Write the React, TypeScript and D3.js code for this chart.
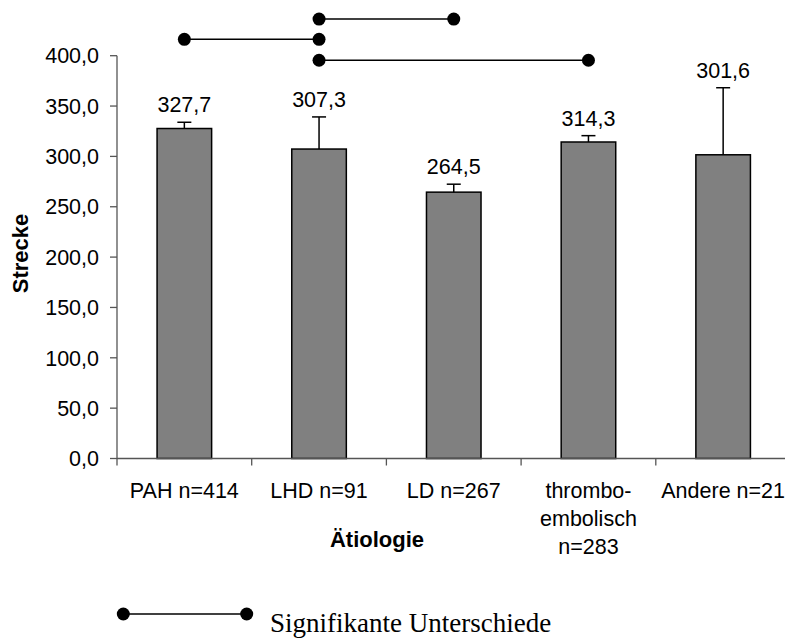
import React from "react";
import * as d3 from "d3";

// Six-minute walk distance ("Strecke") by aetiology group
const categories = ["PAH", "LHD", "LD", "CTEPH", "Andere"];
const categoryLabels: string[][] = [
  ["PAH n=414"],
  ["LHD n=91"],
  ["LD n=267"],
  ["thrombo-", "embolisch", "n=283"],
  ["Andere n=21"],
];
const means = [327.7, 307.3, 264.5, 314.3, 301.6];
const errors = [6.2, 31.9, 7.9, 6.3, 66.6];
const yTicks = [0, 50, 100, 150, 200, 250, 300, 350, 400];

// Pairs with significant differences and the height at which each bracket is drawn
const sigFrom = ["PAH", "LHD", "LHD"];
const sigTo = ["LHD", "LD", "CTEPH"];
const sigLevel = [416.3, 436.4, 395.5];

const W = 785;
const H = 639;
const FONT = "'Liberation Sans', Arial, sans-serif";

export default function App() {
  const x = d3
    .scaleBand<string>()
    .domain(categories)
    .range([117, 790.5])
    .paddingInner(0.595)
    .paddingOuter(0.2975);
  const y = d3.scaleLinear().domain([0, 400]).range([458.5, 55.7]);
  const fmt = (v: number) => v.toFixed(1).replace(".", ",");
  const step = x.step();
  const cx = (c: string) => (x(c) as number) + x.bandwidth() / 2;
  const x0 = x.range()[0];

  return (
    <svg
      width={W}
      height={H}
      style={{ position: "absolute", left: 0, top: 0, background: "#fff" }}
      fontFamily={FONT}
    >
      {/* bars */}
      {categories.map((c, i) => (
        <rect
          key={c}
          x={x(c)}
          y={y(means[i])}
          width={x.bandwidth()}
          height={y(0) - y(means[i])}
          fill="#808080"
          stroke="#000"
          strokeWidth={1.5}
        />
      ))}
      {/* error bars (upper) */}
      {categories.map((c, i) => (
        <g key={"e" + c} stroke="#000" strokeWidth={1.5}>
          <line x1={cx(c)} x2={cx(c)} y1={y(means[i])} y2={y(means[i] + errors[i])} />
          <line x1={cx(c) - 7} x2={cx(c) + 7} y1={y(means[i] + errors[i])} y2={y(means[i] + errors[i])} />
        </g>
      ))}
      {/* value labels */}
      {categories.map((c, i) => (
        <text
          key={"v" + c}
          x={cx(c)}
          y={y(means[i] + errors[i]) - 10}
          textAnchor="middle"
          fontSize={21.5}
          fill="#000"
        >
          {fmt(means[i])}
        </text>
      ))}
      {/* y axis */}
      <line x1={x0} x2={x0} y1={y(0)} y2={y(400)} stroke="#555" strokeWidth={1.3} />
      {yTicks.map((t) => (
        <g key={"t" + t}>
          <line x1={x0 - 7} x2={x0} y1={y(t)} y2={y(t)} stroke="#555" strokeWidth={1.3} />
          <text x={99} y={y(t)} dy="0.36em" textAnchor="end" fontSize={21.5} fill="#000">
            {fmt(t)}
          </text>
        </g>
      ))}
      {/* x axis */}
      <line x1={x0} x2={x.range()[1]} y1={y(0)} y2={y(0)} stroke="#555" strokeWidth={1.3} />
      {d3.range(categories.length + 1).map((k) => (
        <line
          key={"xt" + k}
          x1={x0 + k * step}
          x2={x0 + k * step}
          y1={y(0)}
          y2={y(0) + 7}
          stroke="#555"
          strokeWidth={1.3}
        />
      ))}
      {categories.map((c, i) => (
        <text key={"l" + c} textAnchor="middle" fontSize={21.5} fill="#000">
          {categoryLabels[i].map((line, j) => (
            <tspan key={j} x={cx(c)} y={498 + j * 28.2}>
              {line}
            </tspan>
          ))}
        </text>
      ))}
      {/* axis titles */}
      <text x={377} y={547} textAnchor="middle" fontSize={22} fontWeight="bold" fill="#000">
        Ätiologie
      </text>
      <text
        transform="translate(28,253.5) rotate(-90)"
        textAnchor="middle"
        fontSize={22}
        fontWeight="bold"
        fill="#000"
      >
        Strecke
      </text>
      {/* significance brackets */}
      {sigFrom.map((a, i) => {
        const yy = y(sigLevel[i]);
        const xa = cx(a);
        const xb = cx(sigTo[i]);
        return (
          <g key={"s" + i}>
            <line x1={xa} x2={xb} y1={yy} y2={yy} stroke="#000" strokeWidth={1.5} />
            <circle cx={xa} cy={yy} r={6.5} fill="#000" />
            <circle cx={xb} cy={yy} r={6.5} fill="#000" />
          </g>
        );
      })}
      {/* legend */}
      <g>
        <line x1={123.3} x2={246.7} y1={614} y2={614} stroke="#000" strokeWidth={1.5} />
        <circle cx={123.3} cy={614} r={6.5} fill="#000" />
        <circle cx={246.7} cy={614} r={6.5} fill="#000" />
        <text
          x={270}
          y={631.5}
          fontSize={27}
          fontFamily="'Liberation Serif', 'Times New Roman', serif"
          fill="#000"
        >
          Signifikante Unterschiede
        </text>
      </g>
    </svg>
  );
}
